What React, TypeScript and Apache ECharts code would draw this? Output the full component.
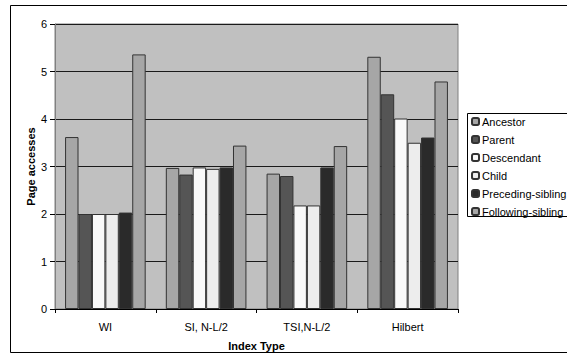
import React, { useEffect, useRef } from "react";
import * as echarts from "echarts";

const categories = ["WI", "SI, N-L/2", "TSI,N-L/2", "Hilbert"];
const seriesNames = ["Ancestor", "Parent", "Descendant", "Child", "Preceding-sibling", "Following-sibling"];
const ancestor = [3.62, 2.97, 2.85, 5.31];
const parent = [2.0, 2.83, 2.8, 4.52];
const descendant = [2.0, 2.98, 2.18, 4.01];
const child = [2.0, 2.95, 2.18, 3.5];
const preceding = [2.03, 2.98, 2.98, 3.61];
const following = [5.36, 3.44, 3.43, 4.79];
const seriesValues = [ancestor, parent, descendant, child, preceding, following];
const seriesColors = ["#a6a6a6", "#555555", "#f9f9f9", "#ededed", "#2a2a2a", "#a6a6a6"];

const FONT = '"Liberation Sans", Arial, sans-serif';

export default function App() {
  const ref = useRef<HTMLDivElement>(null);
  useEffect(() => {
    if (!ref.current) return;
    const chart = echarts.init(ref.current, null, { renderer: "svg" });
    chart.setOption({
      animation: false,
      backgroundColor: "#ffffff",
      textStyle: { fontFamily: FONT },
      grid: {
        left: 55,
        top: 24,
        width: 403,
        height: 285,
        show: true,
        backgroundColor: "#c0c0c0",
        borderColor: "#808080",
        borderWidth: 1,
      },
      legend: {
        orient: "vertical",
        left: 471,
        top: 116,
        itemWidth: 7,
        itemHeight: 7,
        itemGap: 7,
        padding: 0,
        data: seriesNames,
        textStyle: { fontFamily: FONT, fontSize: 11, color: "#000", padding: [0, 0, 0, -2] },
      },
      graphic: [
        {
          type: "rect",
          shape: { x: 10.5, y: 5.5, width: 600, height: 347 },
          style: { fill: "none", stroke: "#000", lineWidth: 1 },
          z: -1,
        },
        {
          type: "rect",
          shape: { x: 467.5, y: 113.5, width: 120, height: 103 },
          style: { fill: "#fff", stroke: "#000", lineWidth: 1 },
          z: 0,
        },
      ],
      xAxis: {
        type: "category",
        data: categories,
        name: "Index Type",
        nameLocation: "middle",
        nameGap: 31,
        nameMoveOverlap: false,
        nameTextStyle: { fontFamily: FONT, fontSize: 11, fontWeight: "bold", color: "#000" },
        axisLine: { show: true, lineStyle: { color: "#000", width: 1 } },
        axisTick: { show: true, length: 4, lineStyle: { color: "#000" } },
        axisLabel: { fontFamily: FONT, fontSize: 11, color: "#000", margin: 12 },
        splitLine: { show: false },
      },
      yAxis: {
        type: "value",
        min: 0,
        max: 6,
        interval: 1,
        name: "Page accesses",
        nameLocation: "middle",
        nameGap: 19,
        nameMoveOverlap: false,
        nameTextStyle: { fontFamily: FONT, fontSize: 11, fontWeight: "bold", color: "#000" },
        axisLine: { show: true, lineStyle: { color: "#808080", width: 1 } },
        axisTick: { show: true, length: 5, lineStyle: { color: "#000" } },
        axisLabel: { fontFamily: FONT, fontSize: 11, color: "#000", margin: 8 },
        splitLine: { show: true, lineStyle: { color: "#1a1a1a", width: 1 } },
      },
      series: seriesNames.map((name, i) => ({
        name,
        type: "bar",
        data: seriesValues[i],
        barGap: "0%",
        barCategoryGap: "20%",
        itemStyle: { color: seriesColors[i], borderColor: "#333", borderWidth: 1 },
      })),
    });
    return () => chart.dispose();
  }, []);
  return (
    <div
      ref={ref}
      style={{ position: "fixed", left: 0, top: 0, width: 567, height: 364 }}
    />
  );
}
